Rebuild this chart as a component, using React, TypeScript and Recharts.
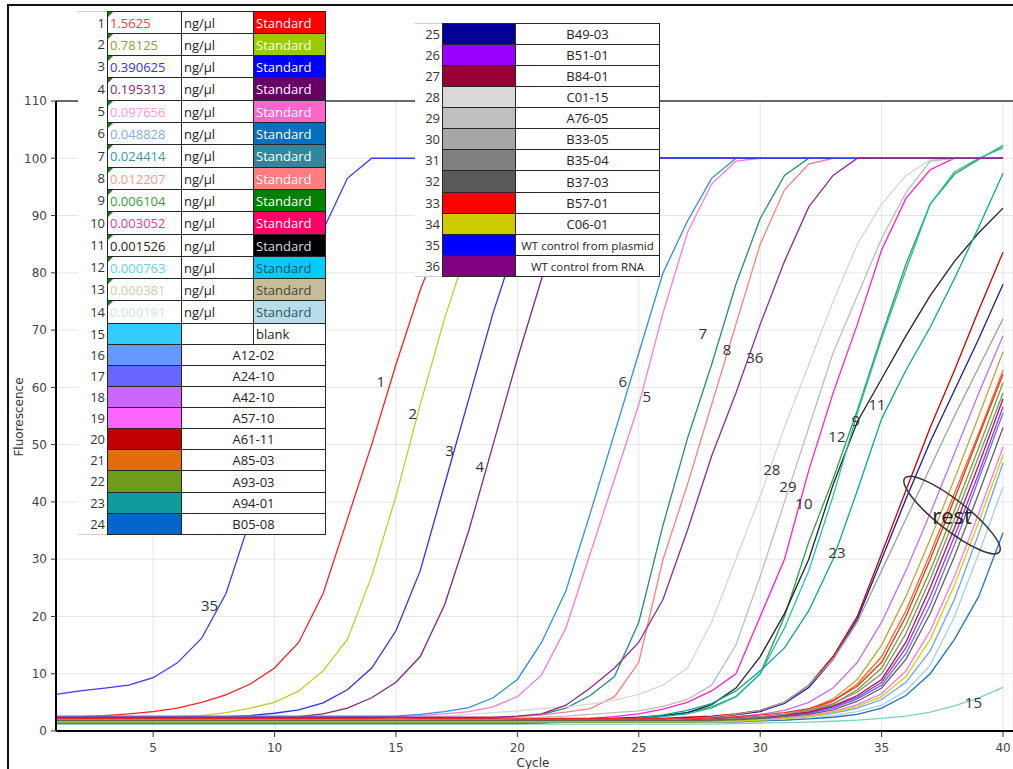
import { LineChart, Line, XAxis, YAxis, CartesianGrid, ReferenceLine, ReferenceDot } from 'recharts'

const cycles = [
  1, 2, 3, 4, 5, 6, 7, 8, 9, 10, 11, 12, 13, 14, 15, 16, 17, 18, 19, 20,
  21, 22, 23, 24, 25, 26, 27, 28, 29, 30, 31, 32, 33, 34, 35, 36, 37, 38, 39, 40,
]

// fluorescence per cycle, one array per well (1..36)
const s01 = [2.4, 2.5, 2.7, 3.0, 3.4, 4.0, 5.0, 6.3, 8.2, 11, 15.5, 24, 37, 50, 64, 77, 88, 95, 99, 100,
  100, 100, 100, 100, 100, 100, 100, 100, 100, 100, 100, 100, 100, 100, 100, 100, 100, 100, 100, 100]
const s02 = [2.3, 2.3, 2.3, 2.3, 2.3, 2.5, 2.7, 3.2, 4.0, 5.0, 7.0, 10.5, 16, 27, 41, 57, 72, 85, 94, 98.5,
  100, 100, 100, 100, 100, 100, 100, 100, 100, 100, 100, 100, 100, 100, 100, 100, 100, 100, 100, 100]
const s03 = [2.5, 2.5, 2.5, 2.5, 2.5, 2.5, 2.5, 2.5, 2.7, 3.1, 3.7, 4.9, 7.2, 11, 17.5, 28, 43, 58, 73, 86,
  95, 99, 100, 100, 100, 100, 100, 100, 100, 100, 100, 100, 100, 100, 100, 100, 100, 100, 100, 100]
const s04 = [2.5, 2.5, 2.5, 2.5, 2.5, 2.5, 2.5, 2.5, 2.5, 2.5, 2.5, 3.0, 4.0, 5.8, 8.5, 13, 22, 35, 50, 65,
  79, 90, 97, 100, 100, 100, 100, 100, 100, 100, 100, 100, 100, 100, 100, 100, 100, 100, 100, 100]
const s05 = [2.5, 2.5, 2.5, 2.5, 2.5, 2.5, 2.5, 2.5, 2.5, 2.5, 2.5, 2.5, 2.5, 2.5, 2.5, 2.7, 3.0, 3.4, 4.2, 6.0,
  9.8, 18, 31, 44, 57, 73, 87, 95.5, 99.5, 100, 100, 100, 100, 100, 100, 100, 100, 100, 100, 100]
const s06 = [2.6, 2.6, 2.6, 2.6, 2.6, 2.6, 2.6, 2.6, 2.6, 2.6, 2.6, 2.6, 2.6, 2.6, 2.6, 2.9, 3.4, 4.1, 5.8, 9.0,
  15.5, 24.5, 38, 52, 66, 80, 89, 96.5, 100, 100, 100, 100, 100, 100, 100, 100, 100, 100, 100, 100]
const s07 = [2.3, 2.3, 2.3, 2.3, 2.3, 2.3, 2.3, 2.3, 2.3, 2.3, 2.3, 2.3, 2.3, 2.3, 2.3, 2.3, 2.3, 2.3, 2.3, 2.5,
  2.9, 4.0, 6.2, 9.5, 19, 36, 51, 64, 78, 89.5, 97, 100, 100, 100, 100, 100, 100, 100, 100, 100]
const s08 = [2.3, 2.3, 2.3, 2.3, 2.3, 2.3, 2.3, 2.3, 2.3, 2.3, 2.3, 2.3, 2.3, 2.3, 2.3, 2.3, 2.3, 2.3, 2.3, 2.5,
  2.8, 3.3, 3.9, 6.0, 12, 30, 43, 57, 71, 85, 94.5, 99, 100, 100, 100, 100, 100, 100, 100, 100]
const s09 = [1.6, 1.6, 1.6, 1.6, 1.6, 1.6, 1.6, 1.6, 1.6, 1.6, 1.6, 1.6, 1.6, 1.6, 1.6, 1.6, 1.6, 1.6, 1.6, 1.6,
  1.7, 1.8, 1.9, 2.0, 2.2, 2.6, 3.2, 4.2, 6.0, 10, 20, 33, 44, 56, 69, 81.5, 92, 97.2, 99.8, 102.2]
const s10 = [2.0, 2.0, 2.0, 2.0, 2.0, 2.0, 2.0, 2.0, 2.0, 2.0, 2.0, 2.0, 2.0, 2.0, 2.0, 2.0, 2.0, 2.0, 2.0, 2.0,
  2.0, 2.0, 2.2, 2.5, 3.0, 3.8, 5.0, 7.0, 10, 20, 30, 45.5, 59, 71, 84, 93, 98, 100, 100, 100]
const s11 = [1.9, 1.9, 1.9, 1.9, 1.9, 1.9, 1.9, 1.9, 1.9, 1.9, 1.9, 1.9, 1.9, 1.9, 1.9, 1.9, 1.9, 1.9, 1.9, 1.9,
  1.9, 2.0, 2.1, 2.2, 2.4, 2.7, 3.2, 4.6, 7.5, 13, 20.5, 30, 43, 54, 61.5, 69, 76, 82, 87, 91.3]
const s12 = [1.4, 1.4, 1.4, 1.4, 1.4, 1.4, 1.4, 1.4, 1.4, 1.4, 1.4, 1.4, 1.4, 1.4, 1.4, 1.4, 1.4, 1.4, 1.4, 1.4,
  1.5, 1.6, 1.7, 1.9, 2.1, 2.5, 3.0, 4.0, 6.0, 10, 18, 28, 41, 55.5, 68.5, 80.5, 92, 97.6, 100, 101.8]
const s13 = [1.7, 1.7, 1.7, 1.7, 1.7, 1.7, 1.7, 1.7, 1.7, 1.7, 1.7, 1.7, 1.7, 1.7, 1.7, 1.7, 1.7, 1.7, 1.7, 1.7,
  1.7, 1.7, 1.7, 1.7, 1.7, 1.7, 1.8, 1.9, 2.1, 2.4, 2.9, 3.8, 5.6, 9.0, 15, 23.5, 33.5, 44, 55, 66.2]
const s14 = [1.5, 1.5, 1.5, 1.5, 1.5, 1.5, 1.5, 1.5, 1.5, 1.5, 1.5, 1.5, 1.5, 1.5, 1.5, 1.5, 1.5, 1.5, 1.5, 1.5,
  1.5, 1.5, 1.5, 1.5, 1.5, 1.5, 1.5, 1.5, 1.6, 1.7, 1.9, 2.2, 2.7, 3.4, 4.5, 7.0, 11.5, 20, 31, 42.6]
const s15 = [1.2, 1.2, 1.2, 1.2, 1.2, 1.2, 1.2, 1.2, 1.2, 1.2, 1.2, 1.2, 1.2, 1.2, 1.2, 1.2, 1.2, 1.2, 1.2, 1.2,
  1.2, 1.2, 1.2, 1.2, 1.2, 1.2, 1.2, 1.2, 1.3, 1.4, 1.45, 1.55, 1.7, 1.9, 2.2, 2.6, 3.3, 4.4, 5.8, 7.6]
const s16 = [1.7, 1.7, 1.7, 1.7, 1.7, 1.7, 1.7, 1.7, 1.7, 1.7, 1.7, 1.7, 1.7, 1.7, 1.7, 1.7, 1.7, 1.7, 1.7, 1.7,
  1.7, 1.7, 1.7, 1.7, 1.7, 1.7, 1.7, 1.7, 1.8, 2.0, 2.2, 2.5, 3.1, 4.0, 5.5, 8.5, 14, 23, 34.5, 46.8]
const s17 = [1.9, 1.9, 1.9, 1.9, 1.9, 1.9, 1.9, 1.9, 1.9, 1.9, 1.9, 1.9, 1.9, 1.9, 1.9, 1.9, 1.9, 1.9, 1.9, 1.9,
  1.9, 1.9, 1.9, 1.9, 1.9, 1.9, 1.9, 2.0, 2.1, 2.3, 2.6, 3.1, 4.0, 5.6, 8.0, 13.5, 22, 32.5, 44, 55.5]
const s18 = [1.8, 1.8, 1.8, 1.8, 1.8, 1.8, 1.8, 1.8, 1.8, 1.8, 1.8, 1.8, 1.8, 1.8, 1.8, 1.8, 1.8, 1.8, 1.8, 1.8,
  1.8, 1.8, 1.8, 1.8, 1.8, 1.8, 1.9, 2.1, 2.4, 2.9, 3.6, 5.0, 7.5, 12, 19, 28, 38, 48.5, 59, 69]
const s19 = [1.7, 1.7, 1.7, 1.7, 1.7, 1.7, 1.7, 1.7, 1.7, 1.7, 1.7, 1.7, 1.7, 1.7, 1.7, 1.7, 1.7, 1.7, 1.7, 1.7,
  1.7, 1.7, 1.7, 1.7, 1.7, 1.7, 1.7, 1.8, 1.9, 2.0, 2.3, 2.7, 3.4, 4.6, 6.5, 10.5, 17.5, 27, 38, 49.6]
const s20 = [2.2, 2.2, 2.2, 2.2, 2.2, 2.2, 2.2, 2.2, 2.2, 2.2, 2.2, 2.2, 2.2, 2.2, 2.2, 2.2, 2.2, 2.2, 2.2, 2.2,
  2.2, 2.2, 2.2, 2.2, 2.2, 2.2, 2.4, 2.6, 3.0, 3.6, 5.0, 8.0, 13, 20, 31, 42, 53, 63, 73.5, 83.6]
const s21 = [1.6, 1.6, 1.6, 1.6, 1.6, 1.6, 1.6, 1.6, 1.6, 1.6, 1.6, 1.6, 1.6, 1.6, 1.6, 1.6, 1.6, 1.6, 1.6, 1.6,
  1.6, 1.6, 1.6, 1.6, 1.6, 1.6, 1.6, 1.8, 2.0, 2.3, 2.7, 3.5, 5.2, 8.2, 13, 21, 31, 41.5, 52, 63]
const s22 = [1.5, 1.5, 1.5, 1.5, 1.5, 1.5, 1.5, 1.5, 1.5, 1.5, 1.5, 1.5, 1.5, 1.5, 1.5, 1.5, 1.5, 1.5, 1.5, 1.5,
  1.5, 1.5, 1.5, 1.5, 1.5, 1.5, 1.5, 1.7, 1.9, 2.2, 2.6, 3.3, 4.7, 7.2, 11, 18.5, 28, 38.5, 49.5, 60.8]
const s23 = [1.3, 1.3, 1.3, 1.3, 1.3, 1.3, 1.3, 1.3, 1.3, 1.3, 1.3, 1.3, 1.3, 1.3, 1.3, 1.3, 1.3, 1.3, 1.3, 1.3,
  1.4, 1.6, 1.8, 2.0, 2.3, 2.8, 3.6, 4.8, 7.0, 10.5, 14.5, 21, 30, 42, 54.5, 63, 70.5, 79, 88, 97.4]
const s24 = [1.6, 1.6, 1.6, 1.6, 1.6, 1.6, 1.6, 1.6, 1.6, 1.6, 1.6, 1.6, 1.6, 1.6, 1.6, 1.6, 1.6, 1.6, 1.6, 1.6,
  1.6, 1.6, 1.6, 1.6, 1.6, 1.6, 1.6, 1.6, 1.6, 1.8, 1.9, 2.1, 2.4, 2.9, 4.0, 6.2, 10, 16, 23.5, 34.6]
const s25 = [2.0, 2.0, 2.0, 2.0, 2.0, 2.0, 2.0, 2.0, 2.0, 2.0, 2.0, 2.0, 2.0, 2.0, 2.0, 2.0, 2.0, 2.0, 2.0, 2.0,
  2.0, 2.0, 2.0, 2.0, 2.0, 2.0, 2.2, 2.4, 2.8, 3.4, 4.8, 7.6, 12.5, 19.5, 30, 40.5, 50.5, 59.5, 68.5, 78]
const s26 = [1.9, 1.9, 1.9, 1.9, 1.9, 1.9, 1.9, 1.9, 1.9, 1.9, 1.9, 1.9, 1.9, 1.9, 1.9, 1.9, 1.9, 1.9, 1.9, 1.9,
  1.9, 1.9, 1.9, 1.9, 1.9, 1.9, 1.9, 2.0, 2.2, 2.4, 2.7, 3.2, 4.2, 5.9, 8.5, 14.5, 23.5, 34, 45, 56.6]
const s27 = [2.0, 2.0, 2.0, 2.0, 2.0, 2.0, 2.0, 2.0, 2.0, 2.0, 2.0, 2.0, 2.0, 2.0, 2.0, 2.0, 2.0, 2.0, 2.0, 2.0,
  2.0, 2.0, 2.0, 2.0, 2.0, 2.0, 2.0, 2.1, 2.3, 2.5, 2.8, 3.3, 4.4, 6.2, 9.0, 15.5, 25, 35.5, 46.5, 58]
const s28 = [2.0, 2.0, 2.0, 2.0, 2.0, 2.0, 2.0, 2.0, 2.0, 2.0, 2.0, 2.0, 2.0, 2.0, 2.2, 2.4, 2.6, 2.9, 3.2, 3.5,
  3.9, 4.2, 4.7, 5.4, 6.4, 8.0, 11, 19, 30, 41, 53, 64, 75, 85, 92, 97, 99.7, 100, 100, 100]
const s29 = [2.0, 2.0, 2.0, 2.0, 2.0, 2.0, 2.0, 2.0, 2.0, 2.0, 2.0, 2.0, 2.0, 2.0, 2.0, 2.0, 2.0, 2.0, 2.0, 2.2,
  2.4, 2.6, 2.9, 3.2, 3.5, 4.3, 5.5, 8.0, 15, 27, 40, 53, 66, 76, 86, 94, 99.5, 100, 100, 100]
const s30 = [1.9, 1.9, 1.9, 1.9, 1.9, 1.9, 1.9, 1.9, 1.9, 1.9, 1.9, 1.9, 1.9, 1.9, 1.9, 1.9, 1.9, 1.9, 1.9, 1.9,
  1.9, 1.9, 1.9, 1.9, 1.9, 1.9, 2.1, 2.4, 2.9, 3.6, 5.0, 8.0, 12.5, 19, 28, 37, 46, 55, 63.5, 72]
const s31 = [1.8, 1.8, 1.8, 1.8, 1.8, 1.8, 1.8, 1.8, 1.8, 1.8, 1.8, 1.8, 1.8, 1.8, 1.8, 1.8, 1.8, 1.8, 1.8, 1.8,
  1.8, 1.8, 1.8, 1.8, 1.8, 1.8, 1.8, 2.0, 2.2, 2.5, 2.9, 3.6, 4.8, 6.8, 10, 17, 26.5, 37, 48, 59]
const s32 = [1.8, 1.8, 1.8, 1.8, 1.8, 1.8, 1.8, 1.8, 1.8, 1.8, 1.8, 1.8, 1.8, 1.8, 1.8, 1.8, 1.8, 1.8, 1.8, 1.8,
  1.8, 1.8, 1.8, 1.8, 1.8, 1.8, 1.8, 1.9, 2.0, 2.2, 2.5, 2.9, 3.7, 5.2, 7.5, 12.5, 20.5, 30.5, 41.5, 53]
const s33 = [2.1, 2.1, 2.1, 2.1, 2.1, 2.1, 2.1, 2.1, 2.1, 2.1, 2.1, 2.1, 2.1, 2.1, 2.1, 2.1, 2.1, 2.1, 2.1, 2.1,
  2.1, 2.1, 2.1, 2.1, 2.1, 2.1, 2.1, 2.3, 2.5, 2.8, 3.2, 3.9, 5.3, 7.8, 12, 20, 30, 40.5, 51.5, 62.3]
const s34 = [1.6, 1.6, 1.6, 1.6, 1.6, 1.6, 1.6, 1.6, 1.6, 1.6, 1.6, 1.6, 1.6, 1.6, 1.6, 1.6, 1.6, 1.6, 1.6, 1.6,
  1.6, 1.6, 1.6, 1.6, 1.6, 1.6, 1.6, 1.6, 1.7, 1.9, 2.1, 2.5, 3.2, 4.3, 6.0, 9.5, 16, 25.5, 36.5, 48.2]
const s35 = [6.4, 7.0, 7.5, 8.0, 9.3, 11.9, 16.2, 24, 37, 55, 73, 87.5, 96.5, 100, 100, 100, 100, 100, 100, 100,
  100, 100, 100, 100, 100, 100, 100, 100, 100, 100, 100, 100, 100, 100, 100, 100, 100, 100, 100, 100]
const s36 = [2.4, 2.4, 2.4, 2.4, 2.4, 2.4, 2.4, 2.4, 2.4, 2.4, 2.4, 2.4, 2.4, 2.4, 2.4, 2.4, 2.4, 2.4, 2.4, 2.6,
  3.0, 4.5, 7.5, 11, 15.5, 23, 35, 48, 59, 71, 82, 91.5, 97, 100, 100, 100, 100, 100, 100, 100]

const allSeries = [s01, s02, s03, s04, s05, s06, s07, s08, s09, s10, s11, s12, s13, s14, s15, s16, s17, s18,
  s19, s20, s21, s22, s23, s24, s25, s26, s27, s28, s29, s30, s31, s32, s33, s34, s35, s36]

const lineColors = [
  '#ff2020', '#c8c832', '#3030f0', '#7a2a82', '#ff7ad8', '#2e8ee6', '#2a8a78', '#ff8080', '#2ea04a',
  '#ff20d0', '#222222', '#20c0b0', '#c8a040', '#a8d0e0', '#7ccfc0', '#6f9fff', '#6a6aff', '#c070f0',
  '#ff70ff', '#c80000', '#e87020', '#78a020', '#10a0a0', '#2070c8', '#1a1aa0', '#9a30ff', '#a02040',
  '#d6d6d6', '#bcbcbc', '#a0a0a0', '#888888', '#606060', '#ff2a2a', '#d8d000', '#3a3af0', '#8a2a90',
]

const yTicks = [0, 10, 20, 30, 40, 50, 60, 70, 80, 90, 100, 110]
const xTicks = [5, 10, 15, 20, 25, 30, 35, 40]

// legend tables
const concentrations = ['1.5625', '0.78125', '0.390625', '0.195313', '0.097656', '0.048828', '0.024414',
  '0.012207', '0.006104', '0.003052', '0.001526', '0.000763', '0.000381', '0.000191']
const concColors = ['#ff3b3b', '#9c9a3a', '#3333dd', '#7a2a7a', '#ff99dd', '#7fb0e0', '#3a9a9a',
  '#ff9a9a', '#3a9a3a', '#ff3399', '#222222', '#66ccff', '#d4ccb0', '#cde6ee']
const standardBg = ['#ff0000', '#99cc00', '#0000ff', '#660066', '#ff66cc', '#0070c0', '#31859c',
  '#ff7c80', '#008000', '#ff0066', '#000000', '#00ccff', '#c4bd97', '#b7dee8']
const standardText = ['#fff', '#fff', '#fff', '#fff', '#fff', '#fff', '#fff',
  '#fff', '#fff', '#fff', '#ddd', '#16506a', '#4a4636', '#34555f']
const sampleNames = ['blank', 'A12-02', 'A24-10', 'A42-10', 'A57-10', 'A61-11', 'A85-03', 'A93-03', 'A94-01',
  'B05-08', 'B49-03', 'B51-01', 'B84-01', 'C01-15', 'A76-05', 'B33-05', 'B35-04', 'B37-03', 'B57-01',
  'C06-01', 'WT control from plasmid', 'WT control from RNA']
const sampleSwatch = ['#33ccff', '#6699ff', '#6666ff', '#cc66ff', '#ff66ff', '#c00000', '#e46c0a', '#6e9c1a',
  '#109c9c', '#0066cc', '#000099', '#9900ff', '#990033', '#d9d9d9', '#bfbfbf', '#a6a6a6', '#808080',
  '#595959', '#ff0000', '#cccc00', '#0000ff', '#800080']

const callouts = [
  { text: '1', x: 14.37, y: 61.1 }, { text: '2', x: 15.69, y: 55.5 }, { text: '3', x: 17.21, y: 49.1 },
  { text: '4', x: 18.45, y: 46.3 }, { text: '35', x: 7.32, y: 22.0 }, { text: '6', x: 24.34, y: 61.1 },
  { text: '5', x: 25.33, y: 58.5 }, { text: '7', x: 27.64, y: 69.5 }, { text: '8', x: 28.63, y: 66.7 },
  { text: '36', x: 29.78, y: 65.3 }, { text: '28', x: 30.48, y: 45.7 }, { text: '29', x: 31.14, y: 42.8 },
  { text: '10', x: 31.8, y: 39.8 }, { text: '12', x: 33.16, y: 51.5 }, { text: '9', x: 33.94, y: 54.3 },
  { text: '11', x: 34.81, y: 57.1 }, { text: '23', x: 33.16, y: 31.3 }, { text: '15', x: 38.78, y: 5.1 },
]

const rows = cycles.map((c, i) => {
  const r: Record<string, number> = { cycle: c }
  allSeries.forEach((s, k) => { r['s' + (k + 1)] = s[i] })
  return r
})

const border = '1px solid #262626'

function Cell({ x1, x2, y1, y2, bg = '#fff', style = {}, children }: any) {
  const t = Math.round(y1), b = Math.round(y2)
  return (
    <div style={{
      position: 'absolute', left: x1, top: t, width: x2 - x1 + 1, height: b - t + 1, boxSizing: 'border-box',
      border, background: bg, overflow: 'hidden', display: 'flex', alignItems: 'center',
      whiteSpace: 'nowrap', fontSize: 13, color: '#222', ...style,
    }}>{children}</div>
  )
}

function NumCell({ x1, x2, y1, y2, n, first }: any) {
  const t = Math.round(y1), b = Math.round(y2)
  return (
    <div style={{
      position: 'absolute', left: x1, top: t, width: x2 - x1, height: b - t + 1, boxSizing: 'border-box',
      borderBottom: '1px solid #cfcfcf', borderTop: first ? '1px solid #cfcfcf' : undefined, background: '#fff',
      display: 'flex', alignItems: 'center', justifyContent: 'flex-end', paddingRight: 2, fontSize: 13, color: '#333',
    }}>{n}</div>
  )
}

function LeftTable() {
  const out: any[] = []
  for (let i = 0; i < 24; i++) {
    const y1 = i < 14 ? 10.5 + i * 22.3 : 322.7 + (i - 14) * 21.1
    const y2 = i < 14 ? y1 + 22.3 : y1 + 21.1
    out.push(<NumCell key={'n' + i} x1={78} x2={107} y1={y1} y2={y2} n={i + 1} first={i === 0} />)
    if (i < 14) {
      out.push(
        <Cell key={'v' + i} x1={107} x2={181} y1={y1} y2={y2} style={{ paddingLeft: 2, color: concColors[i] }}>
          <div style={{ position: 'absolute', left: 0, top: 0, width: 0, height: 0, borderTop: '5px solid #1e7a1e', borderRight: '5px solid transparent' }} />
          {concentrations[i]}
        </Cell>,
        <Cell key={'u' + i} x1={181} x2={253} y1={y1} y2={y2} style={{ paddingLeft: 2 }}>ng/µl</Cell>,
        <Cell key={'s' + i} x1={253} x2={325} y1={y1} y2={y2} bg={standardBg[i]} style={{ paddingLeft: 2, color: standardText[i] }}>Standard</Cell>,
      )
    } else if (i === 14) {
      out.push(
        <Cell key={'w' + i} x1={107} x2={181} y1={y1} y2={y2} bg={sampleSwatch[0]} />,
        <Cell key={'u' + i} x1={181} x2={253} y1={y1} y2={y2} />,
        <Cell key={'s' + i} x1={253} x2={325} y1={y1} y2={y2} style={{ paddingLeft: 2 }}>{sampleNames[0]}</Cell>,
      )
    } else {
      out.push(
        <Cell key={'w' + i} x1={107} x2={181} y1={y1} y2={y2} bg={sampleSwatch[i - 14]} />,
        <Cell key={'m' + i} x1={181} x2={325} y1={y1} y2={y2} style={{ justifyContent: 'center' }}>{sampleNames[i - 14]}</Cell>,
      )
    }
  }
  return <>{out}</>
}

function RightTable() {
  const out: any[] = []
  for (let i = 0; i < 12; i++) {
    const y1 = 22.7 + i * 21.1
    const y2 = y1 + 21.1
    const k = i + 10
    out.push(
      <NumCell key={'n' + i} x1={415} x2={442} y1={y1} y2={y2} n={i + 25} first={i === 0} />,
      <Cell key={'w' + i} x1={442} x2={515} y1={y1} y2={y2} bg={sampleSwatch[k]} />,
      <Cell key={'m' + i} x1={515} x2={659} y1={y1} y2={y2}
        style={{ justifyContent: 'center', fontSize: i >= 10 ? 11.5 : 13 }}>{sampleNames[k]}</Cell>,
    )
  }
  return <>{out}</>
}

const axisFont = { fontFamily: '"DejaVu Sans"', fontSize: 12, fill: '#444' }

export default function App() {
  return (
    <div style={{ position: 'absolute', left: 0, top: 0, width: 1013, height: 769, background: '#fff', overflow: 'hidden', fontFamily: '"Open Sans"' }}>
      <div style={{ position: 'absolute', left: 0, top: 0 }}>
        <LineChart width={1013} height={769} data={rows} margin={{ top: 101, right: 0, bottom: 8, left: 0 }}>
          <CartesianGrid stroke="#e6e6e6" />
          <XAxis dataKey="cycle" type="number" domain={[1, 40.41]} ticks={xTicks} height={30}
            tick={axisFont} tickSize={6} tickMargin={6} tickLine={{ stroke: '#333' }}
            axisLine={{ stroke: '#000', strokeWidth: 2 }} allowDataOverflow />
          <YAxis domain={[0, 110]} ticks={yTicks} width={56} tick={axisFont} tickSize={5} tickMargin={4}
            tickLine={{ stroke: '#333' }} axisLine={{ stroke: '#000', strokeWidth: 2 }} allowDataOverflow />
          <ReferenceLine y={110} stroke="#3a3a3a" strokeWidth={1.5} />
          {allSeries.map((_, k) => (
            <Line key={k} type="linear" dataKey={'s' + (k + 1)} stroke={lineColors[k]} strokeWidth={1.3}
              dot={false} activeDot={false} isAnimationActive={false} />
          ))}
          {callouts.map(c => (
            <ReferenceDot key={c.text} x={c.x} y={c.y} r={0}
              shape={(p: any) => (
                <text x={p.cx} y={p.cy} textAnchor="middle" dominantBaseline="central"
                  fontFamily='"Open Sans"' fontSize={15} fill="#333">{c.text}</text>
              )} />
          ))}
          <ReferenceDot x={37.9} y={37.7} r={0}
            shape={(p: any) => (
              <g>
                <ellipse cx={p.cx} cy={p.cy} rx={60} ry={15} transform={`rotate(38 ${p.cx} ${p.cy})`}
                  fill="none" stroke="#333" strokeWidth={1.5} />
                <text x={p.cx} y={p.cy} textAnchor="middle" dominantBaseline="central"
                  fontFamily='"Open Sans"' fontSize={22} fill="#222">rest</text>
              </g>
            )} />
        </LineChart>
      </div>
      <LeftTable />
      <RightTable />
      <div style={{ position: 'absolute', left: -41, top: 409, width: 120, height: 16, lineHeight: '16px', textAlign: 'center',
        transform: 'rotate(-90deg)', fontFamily: '"DejaVu Sans"', fontSize: 12, color: '#333' }}>Fluorescence</div>
      <div style={{ position: 'absolute', left: 483, top: 755, width: 100, lineHeight: '16px', textAlign: 'center',
        fontFamily: '"DejaVu Sans"', fontSize: 12, color: '#333' }}>Cycle</div>
      <div style={{ position: 'absolute', left: 7, top: 4, width: 1030, height: 800, border: '2px solid #111', boxSizing: 'border-box', pointerEvents: 'none' }} />
    </div>
  )
}
